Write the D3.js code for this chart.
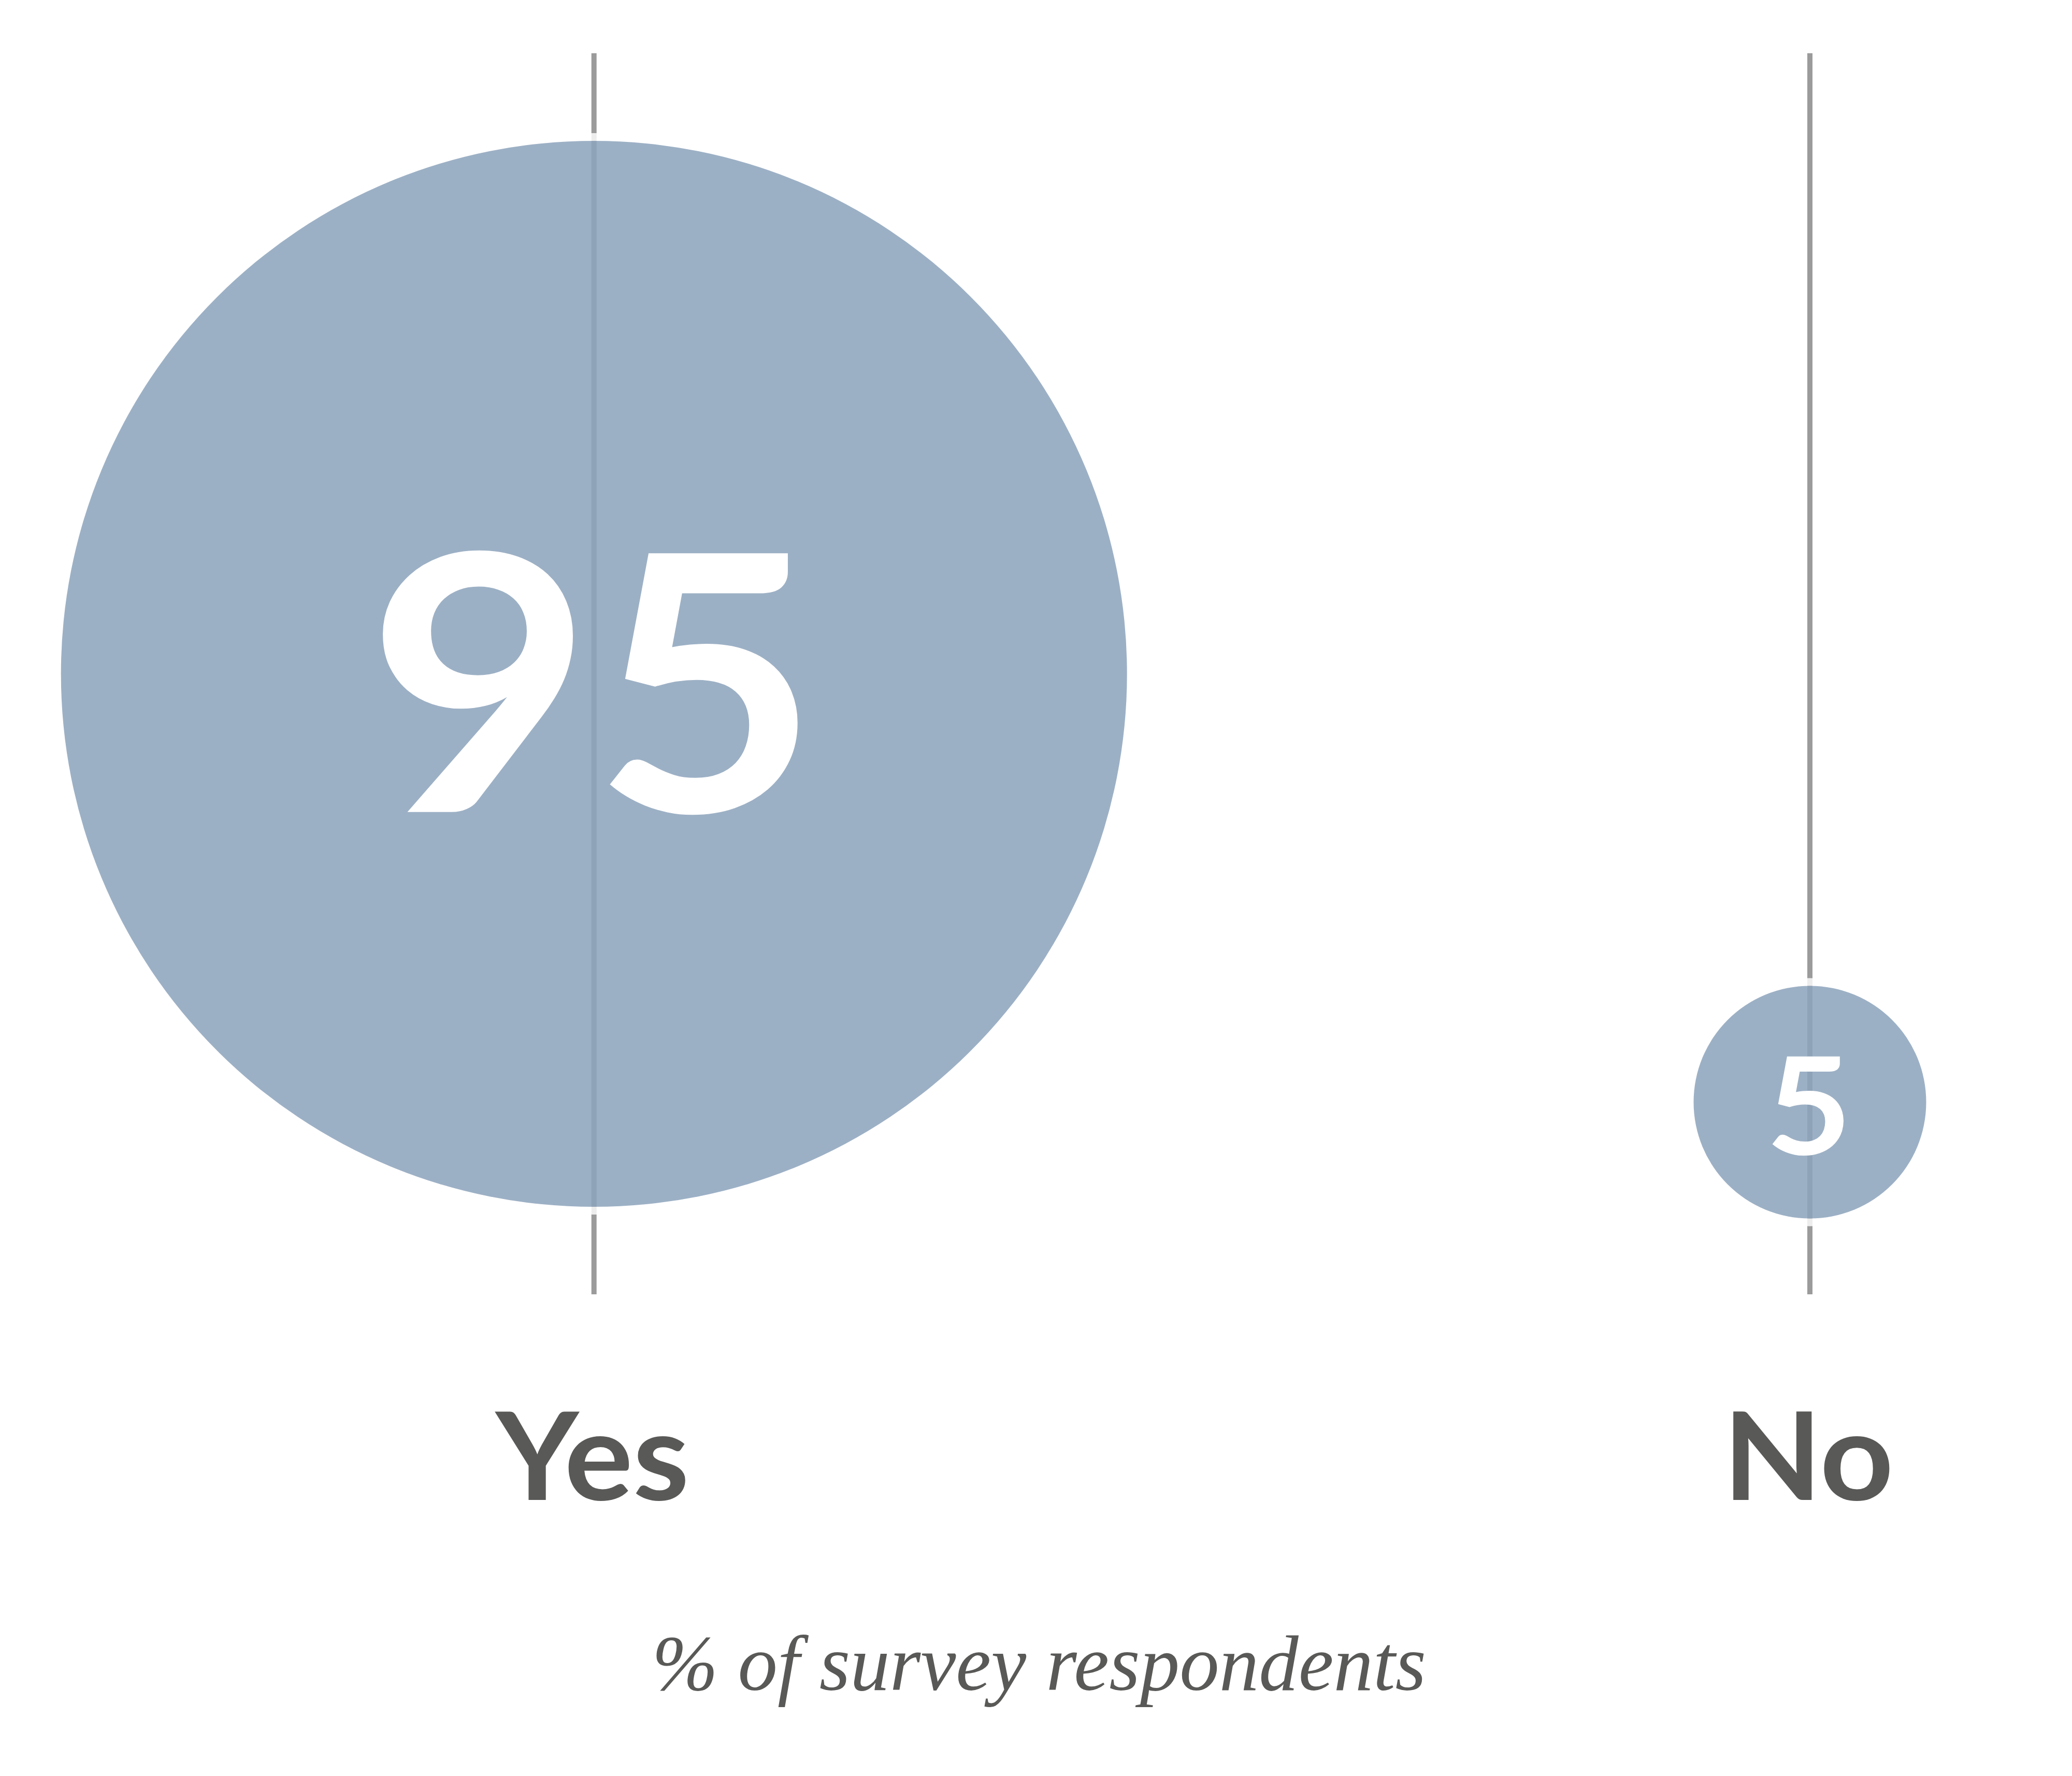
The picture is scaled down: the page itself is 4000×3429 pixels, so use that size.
<!DOCTYPE html>
<html>
<head>
<meta charset="utf-8">
<script src="https://cdn.jsdelivr.net/npm/d3@7"></script>
<style>
  html, body { margin: 0; padding: 0; background: #ffffff; }
  svg { display: block; }
</style>
</head>
<body>
<script>
// ---- data ----
const categories = ["Yes", "No"];
const values = [95, 5];
const valueLabels = ["95", "5"];
const subtitle = "% of survey respondents";

// ---- layout ----
const W = 4000, H = 3429;
const lineTop = 102.7, lineBottom = 2499;
const circleFill = "#8da4bc";
const lineColor = "#9b9b9b";
const textDark = "#595957";

const svg = d3.select("body").append("svg")
  .attr("width", W).attr("height", H)
  .attr("viewBox", `0 0 ${W} ${H}`);

svg.append("rect").attr("width", W).attr("height", H).attr("fill", "#ffffff");

const x = d3.scalePoint().domain(categories).range([1146.7, 3494]);
const r = d3.scaleSqrt().domain([5, 95]).range([224.5, 1029]);
const cy = d3.scaleLinear().domain([5, 95]).range([2128, 1301]);
const fs = d3.scaleLinear().domain([5, 95]).range([262, 691]);

const data = categories.map((c, i) => ({ cat: c, value: values[i], label: valueLabels[i] }));

// vertical guide lines
svg.append("g").selectAll("line").data(data).join("line")
  .attr("x1", d => x(d.cat)).attr("x2", d => x(d.cat))
  .attr("y1", lineTop).attr("y2", lineBottom)
  .attr("stroke", lineColor).attr("stroke-width", 10);

// white halo rings
svg.append("g").selectAll("circle").data(data).join("circle")
  .attr("cx", d => x(d.cat)).attr("cy", d => cy(d.value))
  .attr("r", d => r(d.value) + 7.5)
  .attr("fill", "none")
  .attr("stroke", "#ffffff").attr("stroke-opacity", 0.82)
  .attr("stroke-width", 15);

// bubbles
svg.append("g").selectAll("circle").data(data).join("circle")
  .attr("cx", d => x(d.cat)).attr("cy", d => cy(d.value))
  .attr("r", d => r(d.value))
  .attr("fill", circleFill).attr("fill-opacity", 0.87);

// value labels
svg.append("g").selectAll("text").data(data).join("text")
  .attr("transform", d => `translate(${x(d.cat) - 2},${cy(d.value) + fs(d.value) * 0.386}) scale(1.09,1)`)
  .attr("text-anchor", "middle")
  .attr("font-family", "Lato, 'Open Sans', sans-serif")
  .attr("font-weight", 700)
  .attr("font-size", d => fs(d.value))
  .attr("fill", "#ffffff")
  .text(d => d.label);

// category labels
svg.append("g").selectAll("text").data(data).join("text")
  .attr("transform", d => `translate(${x(d.cat) - 3},2896) scale(1.05,1)`)
  .attr("text-anchor", "middle")
  .attr("font-family", "Lato, 'Open Sans', sans-serif")
  .attr("font-weight", 700)
  .attr("font-size", 236)
  .attr("fill", textDark)
  .text(d => d.cat);

// subtitle
svg.append("text")
  .attr("x", 2006).attr("y", 3263)
  .attr("text-anchor", "middle")
  .attr("font-family", "'Liberation Serif', 'Times New Roman', serif")
  .attr("font-style", "italic")
  .attr("font-size", 153)
  .attr("fill", textDark)
  .text(subtitle);
</script>
</body>
</html>
